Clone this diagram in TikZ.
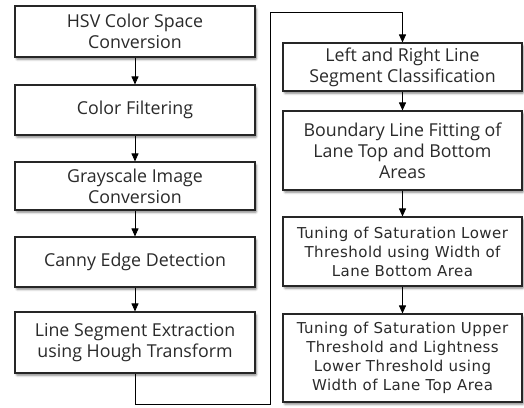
\documentclass[tikz,border=0pt]{standalone}
\usepackage{fontspec}
\setmainfont{Open Sans}
\newfontfamily\gulimlike[LetterSpace=3]{DejaVu Sans}
\usetikzlibrary{arrows.meta,shadows.blur}
\definecolor{txt}{HTML}{2A2A2A}
\tikzset{
  stepbox/.style={draw=black!85, line width=1.1pt, fill=white, align=center, text=txt,
    inner sep=0pt, font=\fontsize{17.8}{21}\selectfont,
    blur shadow={shadow xshift=1.5pt, shadow yshift=-2.5pt, shadow blur steps=5, shadow blur extra rounding=1pt, shadow opacity=45}},
  smallbox/.style={stepbox, font=\gulimlike\fontsize{15}{19}\selectfont},
  flow/.style={line width=0.9pt, draw=black, -{Triangle[width=7pt,length=8pt]}},
  link/.style={line width=0.9pt, draw=black}
}
\begin{document}
\begin{tikzpicture}[x=1pt,y=-1pt]
\useasboundingbox (0,0) rectangle (524,407);
% left column
\node[stepbox, minimum width=240pt, minimum height=51pt] (b1) at (135,31.5) {HSV Color Space\\Conversion};
\node[stepbox, minimum width=240pt, minimum height=50pt] (b2) at (135,110) {Color Filtering};
\node[stepbox, minimum width=240pt, minimum height=48pt] (b3) at (135,186) {Grayscale Image\\Conversion};
\node[stepbox, minimum width=240pt, minimum height=50pt] (b4) at (135,262) {Canny Edge Detection};
\node[stepbox, minimum width=240pt, minimum height=61pt] (b5) at (135,342.5) {Line Segment Extraction\\using Hough Transform};
% right column
\node[stepbox, minimum width=239pt, minimum height=48pt] (r1) at (402.5,67) {Left and Right Line\\Segment Classification};
\node[stepbox, minimum width=239pt, minimum height=79pt] (r2) at (402.5,150.5) {Boundary Line Fitting of\\Lane Top and Bottom\\Areas};
\node[smallbox, minimum width=239pt, minimum height=69pt] (r3) at (402.5,251.5) {Tuning of Saturation Lower\\Threshold using Width of\\Lane Bottom Area};
\node[smallbox, minimum width=239pt, minimum height=88pt] (r4) at (402.5,358) {Tuning of Saturation Upper\\Threshold and Lightness\\Lower Threshold using\\Width of Lane Top Area};
% connectors
\draw[flow] (b1) -- (b2);
\draw[flow] (b2) -- (b3);
\draw[flow] (b3) -- (b4);
\draw[flow] (b4) -- (b5);
\coordinate (c1) at (135,404);
\coordinate (c2) at (270,404);
\coordinate (c3) at (270,12);
\coordinate (c4) at (402.5,12);
\draw[link] (b5.south) -- (c1) -- (c2) -- (c3) -- (c4);
\draw[flow] (c4) -- (r1);
\draw[flow] (r1) -- (r2);
\draw[flow] (r2) -- (r3);
\draw[flow] (r3) -- (r4);
\end{tikzpicture}
\end{document}
